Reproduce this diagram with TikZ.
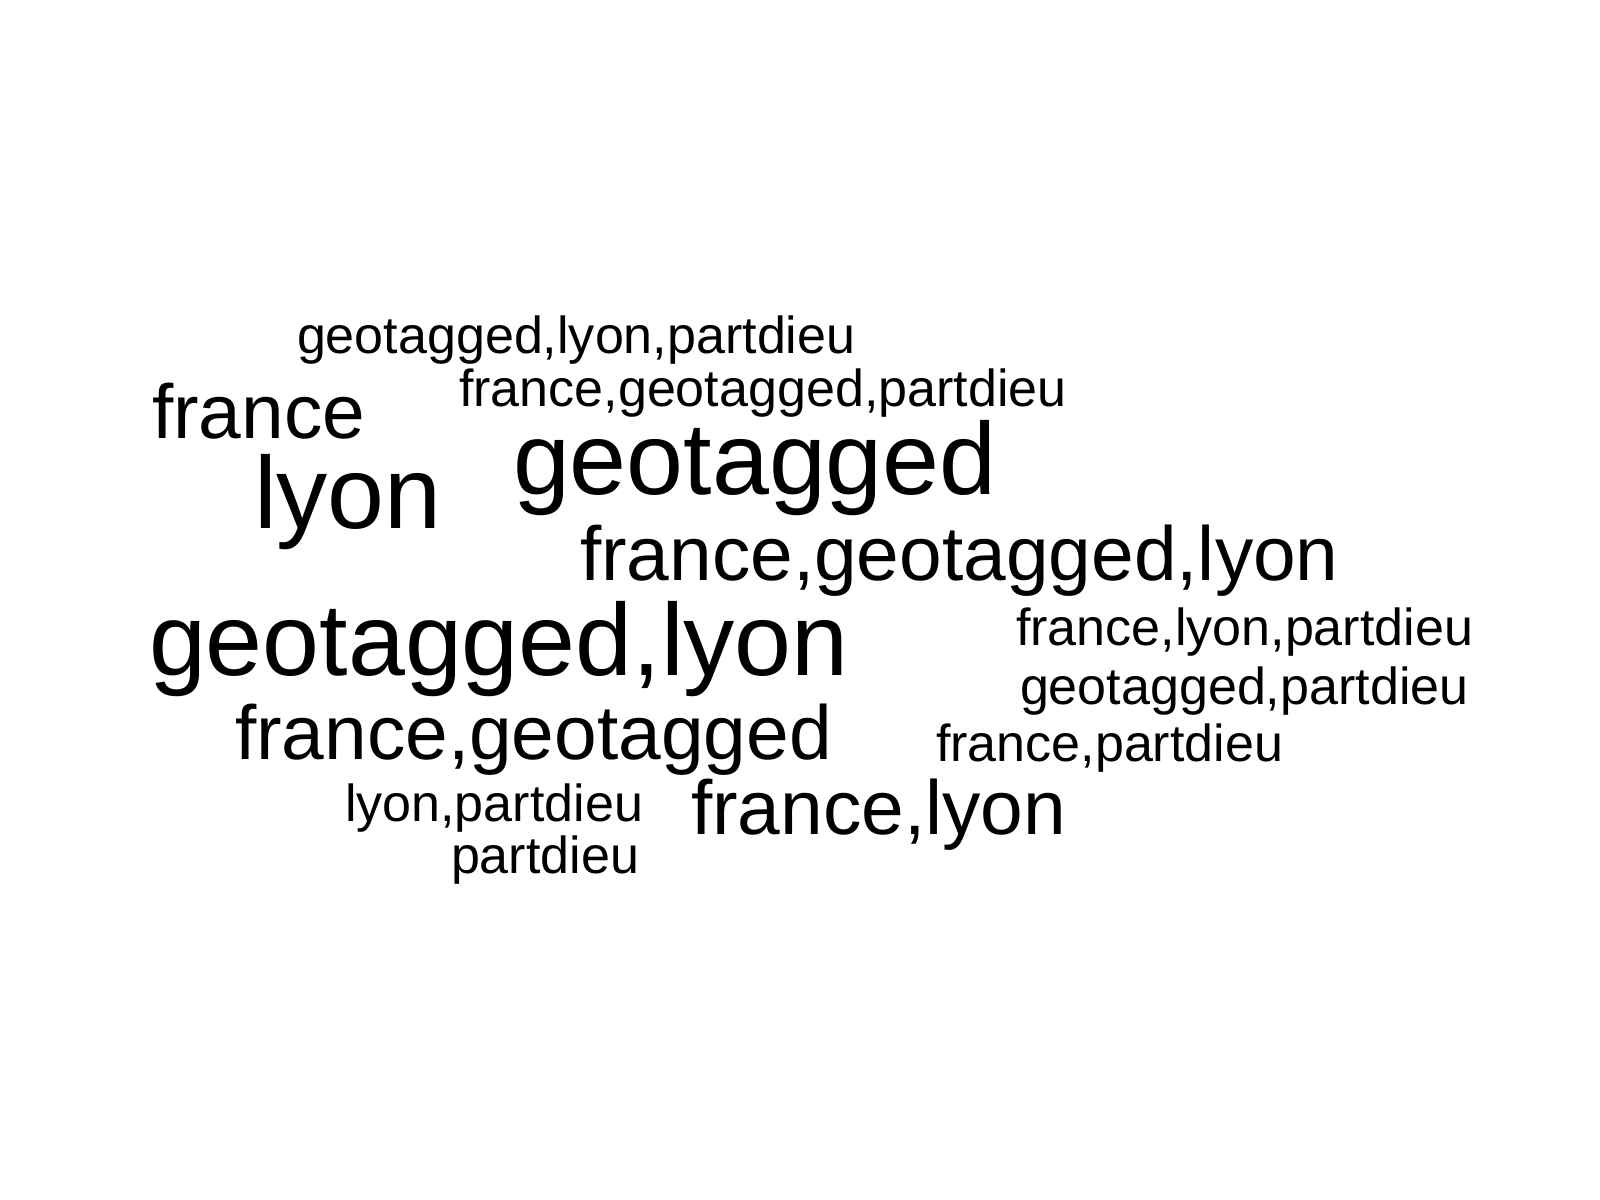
\documentclass[tikz,border=0pt]{standalone}
\usepackage{fontspec}
\setmainfont{Liberation Sans}
\tikzset{
  tag/.style={anchor=base west, inner sep=0pt, outer sep=0pt},
  tagsmall/.style={tag, font=\fontsize{14.8}{14.8}\selectfont},
  tagmid/.style={tag, font=\fontsize{21.8}{21.8}\selectfont},
  tagbig/.style={tag, font=\fontsize{29.1}{29.1}\selectfont}
}
\begin{document}
\begin{tikzpicture}[x=0.01cm, y=-0.01cm]

    \useasboundingbox (0,0) rectangle (1600,1200);

    % top row
    \node[tagsmall] (geolyonpart) at (297,353) {geotagged,lyon,partdieu};
    \node[tagsmall] (frgeopart) at (459,406) {france,geotagged,partdieu};
    \node[tagmid] (france) at (152,438) {france};

    % middle
    \node[tagbig] (lyon) at (254,528) {lyon};
    \node[tagbig] (geotagged) at (513,494) {geotagged};
    \node[tagmid] (frgeolyon) at (580,580) {france,geotagged,lyon};
    \node[tagbig] (geolyon) at (149,675) {geotagged,lyon};

    % right side
    \node[tagsmall] (frlyonpart) at (1016,645) {france,lyon,partdieu};
    \node[tagsmall] (geopart) at (1020,704) {geotagged,partdieu};
    \node[tagsmall] (frpart) at (936,761) {france,partdieu};

    % bottom
    \node[tagmid] (frgeo) at (235,759) {france,geotagged};
    \node[tagsmall] (lyonpart) at (345,821) {lyon,partdieu};
    \node[tagmid] (frlyon) at (691,834) {france,lyon};
    \node[tagsmall] (partdieu) at (451,873) {partdieu};

\end{tikzpicture}
\end{document}
